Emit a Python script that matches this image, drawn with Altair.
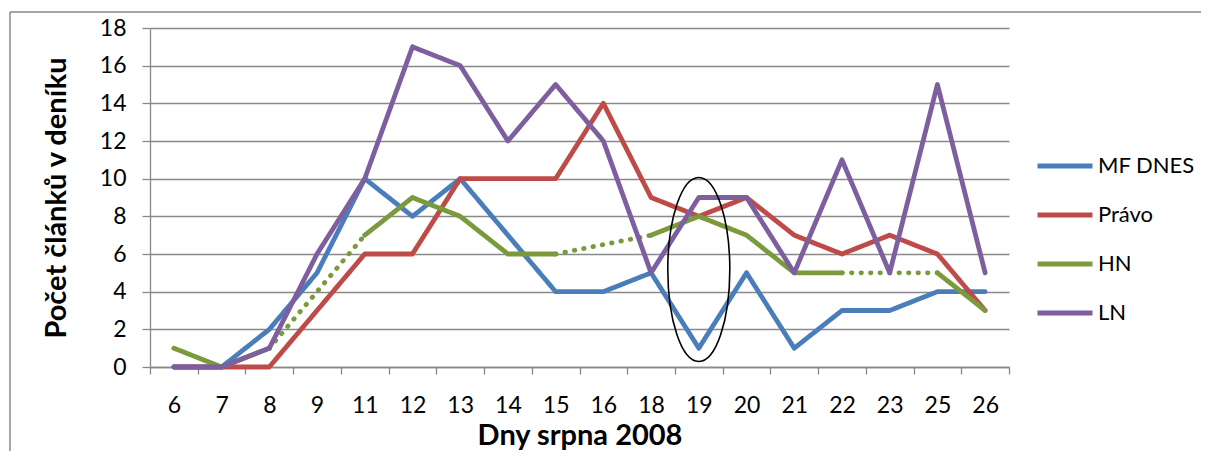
import altair as alt
import pandas as pd

days = [6, 7, 8, 9, 11, 12, 13, 14, 15, 16, 18, 19, 20, 21, 22, 23, 25, 26]
series_names = ["MF DNES", "Právo", "HN", "LN"]
colors = ["#4A7EBB", "#BE4B48", "#7A9A3C", "#7D5FA0"]

mf_dnes = [0, 0, 2, 5, 10, 8, 10, 7, 4, 4, 5, 1, 5, 1, 3, 3, 4, 4]
pravo = [0, 0, 0, 3, 6, 6, 10, 10, 10, 14, 9, 8, 9, 7, 6, 7, 6, 3]
hn = [1, 0, 1, None, 7, 9, 8, 6, 6, None, 7, 8, 7, 5, 5, None, 5, 3]
ln = [0, 0, 1, 6, 10, 17, 16, 12, 15, 12, 5, 9, 9, 5, 11, 5, 15, 5]

# annotation ellipse around day 19
ellipse_day = [19]
ellipse_center = [5.18]

values = {"MF DNES": mf_dnes, "Právo": pravo, "HN": hn, "LN": ln}

rows = []
seg_id = 0
for name in series_names:
    vals = values[name]
    present = [i for i, v in enumerate(vals) if v is not None]
    run = []
    prev = None
    for i in present:
        if prev is not None and i != prev + 1:
            for j in run:
                rows.append({"day": days[j], "idx": j, "value": vals[j], "series": name, "seg": seg_id, "style": "solid"})
            seg_id += 1
            for j in (prev, i):
                rows.append({"day": days[j], "idx": j, "value": vals[j], "series": name, "seg": seg_id, "style": "dotted"})
            seg_id += 1
            run = []
        run.append(i)
        prev = i
    for j in run:
        rows.append({"day": days[j], "idx": j, "value": vals[j], "series": name, "seg": seg_id, "style": "solid"})
    seg_id += 1

df = pd.DataFrame(rows)

FONT = "Lato"
GRID = "#898989"

x_enc = alt.X(
    "day:O",
    scale=alt.Scale(type="band", domain=days, paddingInner=0, paddingOuter=0),
    axis=alt.Axis(
        title="Dny srpna 2008",
        labelAngle=0,
        tickBand="extent",
        tickSize=7,
        tickColor=GRID,
        tickWidth=1.3,
        domainColor=GRID,
        domainWidth=1.3,
        labelFontSize=23,
        labelPadding=20,
        labelColor="#000000",
        titleFontSize=29,
        titleFontWeight="bold",
        titlePadding=4,
        titleColor="#000000",
        grid=False,
    ),
)

y_enc = alt.Y(
    "value:Q",
    scale=alt.Scale(domain=[0, 18], nice=False),
    axis=alt.Axis(
        title="Počet článků v deníku",
        values=list(range(0, 19, 2)),
        tickCount=10,
        labelOverlap=False,
        tickSize=8,
        tickColor=GRID,
        tickWidth=1.3,
        domainColor=GRID,
        domainWidth=1.3,
        gridColor=GRID,
        gridWidth=1.3,
        labelFontSize=23,
        labelPadding=16,
        labelColor="#000000",
        titleFontSize=29,
        titleFontWeight="bold",
        titlePadding=28,
        titleColor="#000000",
    ),
)

lines = alt.Chart(df).mark_line(strokeWidth=4.8, strokeCap="round", strokeJoin="round").encode(
    x=x_enc,
    y=y_enc,
    color=alt.Color(
        "series:N",
        scale=alt.Scale(domain=series_names, range=colors),
        sort=series_names,
        legend=alt.Legend(
            title=None,
            orient="none",
            legendX=885,
            legendY=108,
            symbolType="stroke",
            symbolSize=3025,
            symbolStrokeWidth=5,
            labelFontSize=22,
            labelOffset=3,
            rowPadding=8,
            labelColor="#000000",
        ),
    ),
    strokeDash=alt.StrokeDash(
        "style:N",
        scale=alt.Scale(domain=["solid", "dotted"], range=[[1, 0], [0.5, 9]]),
        legend=None,
    ),
    detail="seg:N",
    order="idx:Q",
)

ell_df = pd.DataFrame({"day": ellipse_day, "value": ellipse_center})
ellipse = alt.Chart(ell_df).mark_point(
    shape="M0,-1A0.337,1,0,1,1,0,1A0.337,1,0,1,1,0,-1Z",
    size=184 * 184,
    filled=False,
    stroke="#000000",
    strokeWidth=1.6,
    opacity=1,
).encode(x=x_enc, y=y_enc)

frame_df = pd.DataFrame({"a": [0]})
frame_top = alt.Chart(frame_df).mark_rule(stroke=GRID, strokeWidth=1.5).encode(
    x=alt.value(-140), x2=alt.value(1100), y=alt.value(-16)
)
frame_left = alt.Chart(frame_df).mark_rule(stroke=GRID, strokeWidth=1.5).encode(
    x=alt.value(-140), y=alt.value(-16), y2=alt.value(500)
)

chart = alt.layer(frame_top, frame_left, lines, ellipse).properties(
    width=859,
    height=339,
    autosize=alt.AutoSizeParams(type="none"),
    padding={"left": 142, "top": 20, "right": 192, "bottom": 84},
).configure(font=FONT).configure_view(stroke=None)

chart.save("out.html", embed_options={"renderer": "svg", "actions": False})
